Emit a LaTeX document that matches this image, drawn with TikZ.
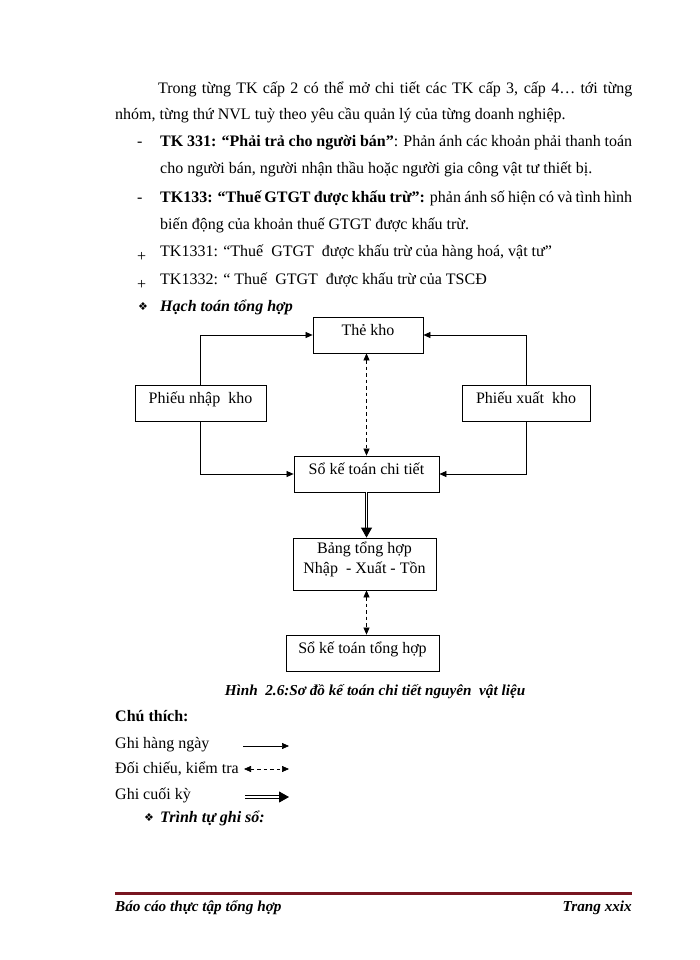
\documentclass[tikz,border=0pt]{standalone}
\usepackage{fontspec}
\setmainfont{Liberation Serif}
\newfontfamily\symfont{DejaVu Sans}
\usetikzlibrary{arrows.meta}
\definecolor{footred}{RGB}{120,22,32}
\newcommand\jline[2]{\makebox[#1][s]{#2}}
\begin{document}
\begin{tikzpicture}[x=1pt,y=-1pt,
  every node/.style={inner sep=0pt, font=\fontsize{16}{19.5}\selectfont},
  txt/.style={anchor=base west},
  box/.style={draw, line width=0.8pt, inner sep=0pt, text height=8pt, text depth=8pt},
  arr/.style={-{Triangle[length=7pt,width=6pt]}, line width=0.7pt},
  darr/.style={{Triangle[length=7pt,width=6pt]}-{Triangle[length=7pt,width=6pt]}, dash pattern=on 3.5pt off 3pt, line width=0.7pt},
  thickarr/.style={double, double distance=1.6pt, line width=0.9pt, -{Triangle[length=10pt,width=11pt]}},
  sym/.style={anchor=base west, font=\symfont\fontsize{11}{12}\selectfont},
  smallbi/.style={font=\fontsize{15.2}{18}\selectfont\bfseries\itshape}]
\path[fill=white, use as bounding box] (0,0) rectangle (700,960);

% body text
\node[txt] (l1) at (158,94) {\jline{474pt}{Trong từng TK cấp 2 có thể mở chi tiết các TK cấp 3, cấp 4… tới từng}};
\node[txt] (l2) at (115,120) {nhóm, từng thứ NVL tuỳ theo yêu cầu quản lý của từng doanh nghiệp.};
\node[txt] (d1) at (137,147) {-};
\node[txt] (l3) at (160,147) {\jline{472pt}{\textbf{TK 331: “Phải trả cho người bán”}: Phản ánh các khoản phải thanh toán}};
\node[txt] (l4) at (160,174) {cho người bán, người nhận thầu hoặc người gia công vật tư thiết bị.};
\node[txt] (d2) at (137,202) {-};
\node[txt] (l5) at (160,202) {\jline{472pt}{\textbf{TK133: “Thuế GTGT được khấu trừ”:} phản ánh số hiện có và tình hình}};
\node[txt] (l6) at (160,229) {biến động của khoản thuế GTGT được khấu trừ.};
\node[txt] (p1) at (137,261) {+};
\node[txt] (l7) at (160,256) {TK1331: “Thuế\ \ GTGT\ \ được khấu trừ của hàng hoá, vật tư”};
\node[txt] (p2) at (137,289) {+};
\node[txt] (l8) at (160,284) {TK1332: “ Thuế\ \ GTGT\ \ được khấu trừ của TSCĐ};
\node[sym] (s1) at (138,310) {❖};
\node[txt] (l9) at (160,311) {\textbf{\textit{Hạch toán tổng hợp}}};

% diagram boxes
\node[box, minimum width=110pt, minimum height=36pt] (tk) at (368,335) {Thẻ kho};
\node[box, minimum width=131pt, minimum height=36pt] (pn) at (200.5,403) {Phiếu nhập\ \ kho};
\node[box, minimum width=128pt, minimum height=36pt] (px) at (526,403) {Phiếu xuất\ \ kho};
\node[box, minimum width=145pt, minimum height=36pt] (sct) at (366.5,474) {Sổ kế toán chi tiết};
\node[draw, line width=0.8pt, inner sep=0pt, align=center, minimum width=143pt, minimum height=52pt] (bth) at (364.5,564) {Bảng tổng hợp\\Nhập\ \ - Xuất - Tồn\\[-7pt]};
\node[box, minimum width=153pt, minimum height=36pt] (stth) at (362.5,653) {Sổ kế toán tổng hợp};

% connectors
\draw[arr] (pn.north) |- (tk.west);
\draw[arr] (pn.south) |- (sct.west);
\draw[arr] (px.north) |- (tk.east);
\draw[arr] (px.south) |- (sct.east);
\draw[darr] (sct.north |- tk.south) -- (sct.north);
\draw[thickarr] (sct.south) -- (sct.south |- bth.north);
\draw[darr] (sct.south |- bth.south) -- (sct.south |- stth.north);

% caption
\node[anchor=base, smallbi] (cap) at (375,695) {Hình\ \ 2.6:Sơ đồ kế toán chi tiết nguyên\ \ vật liệu};

% legend
\node[txt] (lg0) at (115,721) {\textbf{Chú thích:}};
\node[txt] (lg1) at (115,748) {Ghi hàng ngày};
\node[txt] (lg2) at (115,773) {Đối chiếu, kiểm tra};
\node[txt] (lg3) at (115,799) {Ghi cuối kỳ};
\coordinate (a1s) at (243,746);
\coordinate (a1e) at (289,746);
\coordinate (a2s) at (244,769);
\coordinate (a2e) at (289,769);
\coordinate (a3s) at (245,797);
\coordinate (a3e) at (289,797);
\draw[arr] (a1s) -- (a1e);
\draw[darr] (a2s) -- (a2e);
\draw[thickarr] (a3s) -- (a3e);
\node[sym] (s2) at (144,821) {❖};
\node[txt] (l10) at (160,822) {\textbf{\textit{Trình tự ghi sổ:}}};

% footer
\coordinate (fl) at (115,893);
\coordinate (fr) at (632,893);
\draw[footred, line width=3pt] (fl) -- (fr);
\node[txt, smallbi] (f1) at (115,911) {Báo cáo thực tập tổng hợp};
\node[anchor=base east, smallbi] (f2) at (632,911) {Trang xxix};
\end{tikzpicture}
\end{document}
